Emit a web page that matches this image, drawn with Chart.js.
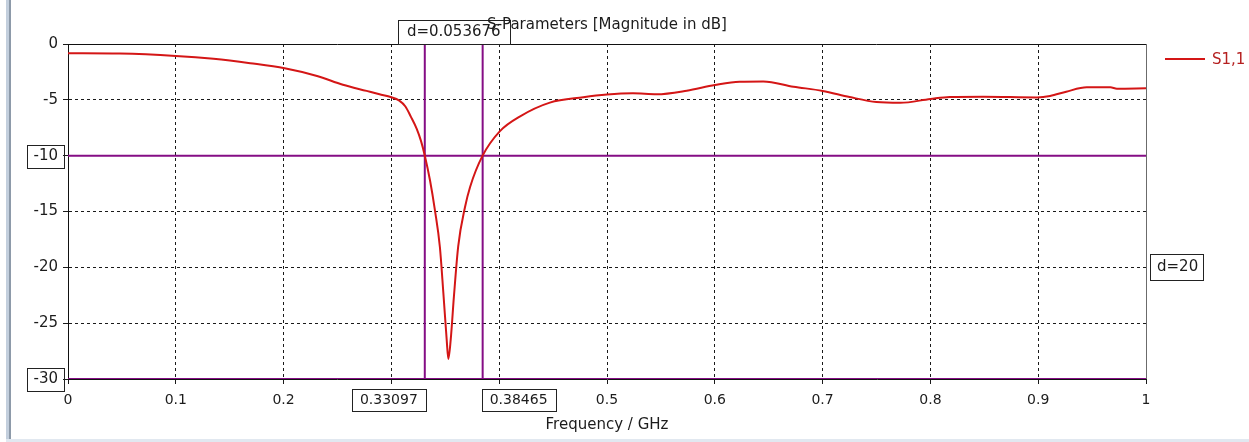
<!DOCTYPE html>
<html>
<head>
<meta charset="utf-8">
<script src="https://cdn.jsdelivr.net/npm/chart.js@4.4.1/dist/chart.umd.min.js"></script>
<style>
html, body { margin: 0; padding: 0; background: #fff; }
#wrap { position: relative; width: 1249px; height: 442px; overflow: hidden; }
canvas { position: absolute; left: 0; top: 0; }
#frameL { position: absolute; left: 6px; top: 0; width: 3px; height: 439px; background: #c3cfdd; border-right: 2px solid #8d9aa9; }
#frameB { position: absolute; left: 6px; right: 0; bottom: 0; height: 3px; background: #e1e8f0; }
</style>
</head>
<body>
<div id="wrap">
  <canvas id="c" width="1249" height="442"></canvas>
  <div id="frameL"></div>
  <div id="frameB"></div>
</div>
<script>
// S1,1 magnitude (dB) vs frequency (GHz)
const freq = [0, 0.048, 0.1, 0.135, 0.169, 0.201, 0.231, 0.255, 0.277, 0.289, 0.300, 0.307, 0.313, 0.318,
  0.3235, 0.3275, 0.331, 0.3358, 0.3404, 0.345, 0.3482, 0.3513, 0.3528, 0.355, 0.358, 0.362, 0.3683, 0.373,
  0.3846, 0.4007, 0.419, 0.447, 0.478, 0.5, 0.524, 0.546, 0.574, 0.6, 0.623, 0.645, 0.673, 0.7, 0.725, 0.75,
  0.772, 0.8, 0.818, 0.849, 0.899, 0.911, 0.926, 0.945, 0.967, 0.973, 1.0];
const s11 = [-0.83, -0.86, -1.07, -1.33, -1.72, -2.17, -2.86, -3.65, -4.2, -4.5, -4.77, -5.05, -5.6, -6.5,
  -7.6, -8.7, -10, -12.2, -14.9, -18.2, -22.3, -26.5, -28.2, -26.5, -22.6, -18.1, -14.6, -12.8,
  -10, -7.8, -6.5, -5.25, -4.77, -4.53, -4.42, -4.5, -4.18, -3.67, -3.37, -3.35, -3.82, -4.2, -4.75, -5.2,
  -5.27, -4.92, -4.74, -4.72, -4.78, -4.66, -4.27, -3.88, -3.88, -4.0, -3.97];

const xRange = [0, 1];
const yRange = [-30, 0];
const markerFreq = [0.330974, 0.38465];
const markerLevel = [-10, -30];
const hiddenXTicks = [0.3, 0.4];

const FONT = 'DejaVu Sans';
const TXT = '#1c1c1c';
const PURPLE = '#850d85';
const RED = '#d41616';

const curve = freq.map((f, i) => ({ x: f, y: s11[i] }));
const markerSets = [];
markerLevel.forEach(v => markerSets.push({
  data: [{ x: xRange[0], y: v }, { x: xRange[1], y: v }],
  borderColor: PURPLE, borderWidth: 2, pointRadius: 0
}));
markerFreq.forEach(f => markerSets.push({
  data: [{ x: f, y: yRange[0] }, { x: f, y: yRange[1] }],
  borderColor: PURPLE, borderWidth: 2, pointRadius: 0
}));

const boxes = {
  id: 'boxes',
  afterDraw(chart) {
    const ctx = chart.ctx;
    const a = chart.chartArea;
    const xs = chart.scales.x, ys = chart.scales.y;
    ctx.save();
    // frame top / right
    ctx.lineWidth = 1;
    ctx.strokeStyle = '#111';
    ctx.beginPath(); ctx.moveTo(a.left, a.top + 0.5); ctx.lineTo(a.right, a.top + 0.5); ctx.stroke();
    ctx.strokeStyle = '#6b6b6b';
    ctx.beginPath(); ctx.moveTo(a.right + 0.5, a.top); ctx.lineTo(a.right + 0.5, a.bottom); ctx.stroke();

    ctx.fillStyle = TXT;
    ctx.strokeStyle = '#222';
    ctx.textBaseline = 'middle';

    // y marker label boxes
    ctx.font = '15px ' + FONT;
    markerLevel.forEach(v => {
      const y = ys.getPixelForValue(v);
      const w = ctx.measureText(String(v)).width;
      const r = a.left - 4, l = a.left - 10 - w - 7;
      ctx.strokeRect(Math.round(l) + 0.5, Math.round(y - 11) + 0.5, Math.round(r - l), 23);
    });

    // x marker labels
    ctx.font = '14px ' + FONT;
    markerFreq.forEach((f, i) => {
      const px = xs.getPixelForValue(f);
      const t = f.toFixed(5);
      const w = ctx.measureText(t).width;
      const bw = w + 16;
      const l = i === 0 ? px + 1 - bw : px - 1;
      ctx.strokeRect(Math.round(l) + 0.5, 389.5, Math.round(bw), 22);
      ctx.textAlign = 'center';
      ctx.fillText(t, l + bw / 2, 400.5);
    });

    // distance labels
    ctx.font = '15px ' + FONT;
    const dF = 'd=' + (markerFreq[1] - markerFreq[0]).toFixed(6);
    const mid = (xs.getPixelForValue(markerFreq[0]) + xs.getPixelForValue(markerFreq[1])) / 2;
    const dw = ctx.measureText(dF).width + 18;
    ctx.strokeRect(Math.round(mid - dw / 2) + 0.5, a.top - 24 + 0.5, Math.round(dw), 24);
    ctx.fillText(dF, mid, a.top - 12);

    const dL = 'd=' + Math.abs(markerLevel[0] - markerLevel[1]);
    const midY = ys.getPixelForValue((markerLevel[0] + markerLevel[1]) / 2);
    const lw = ctx.measureText(dL).width + 12;
    ctx.strokeRect(a.right + 4.5, Math.round(midY - 13) + 0.5, Math.round(lw), 26);
    ctx.textAlign = 'left';
    ctx.fillText(dL, a.right + 11, midY);

    // title
    ctx.textAlign = 'center';
    ctx.fillText('S-Parameters [Magnitude in dB]', (a.left + a.right) / 2, 25);

    // legend
    ctx.strokeStyle = RED;
    ctx.lineWidth = 2;
    ctx.beginPath(); ctx.moveTo(a.right + 19, 59); ctx.lineTo(a.right + 59, 59); ctx.stroke();
    ctx.fillStyle = '#b52020';
    ctx.textAlign = 'left';
    ctx.fillText('S1,1', a.right + 66, 60);
    ctx.restore();
  }
};

new Chart(document.getElementById('c'), {
  type: 'line',
  data: {
    datasets: [
      { label: 'S1,1', data: curve, borderColor: RED, borderWidth: 2, pointRadius: 0, cubicInterpolationMode: 'monotone' },
      ...markerSets
    ]
  },
  options: {
    responsive: false,
    animation: false,
    layout: { padding: { top: 44, right: 103, left: 0, bottom: 0 } },
    plugins: { legend: { display: false }, tooltip: { enabled: false } },
    scales: {
      x: {
        type: 'linear', min: xRange[0], max: xRange[1],
        afterFit: s => { s.height = 63; },
        ticks: {
          stepSize: 0.1, padding: 8, color: TXT, font: { family: FONT, size: 14 },
          maxRotation: 0, autoSkip: false,
          callback: v => hiddenXTicks.some(h => Math.abs(h - v) < 1e-6) ? '' : String(+v.toFixed(1))
        },
        grid: { color: '#1a1a1a', lineWidth: 1, tickLength: 5 },
        border: { color: '#111', width: 1, dash: [3, 3] },
        title: { display: true, text: 'Frequency / GHz', color: TXT, font: { family: FONT, size: 15 }, padding: { top: 0, bottom: 8 } }
      },
      y: {
        min: yRange[0], max: yRange[1],
        afterFit: s => { s.width = 68; },
        ticks: { stepSize: 5, padding: 5, color: TXT, font: { family: FONT, size: 15 }, callback: v => String(v) },
        grid: { color: '#1a1a1a', lineWidth: 1, tickLength: 5 },
        border: { color: '#111', width: 1, dash: [3, 3] }
      }
    }
  },
  plugins: [boxes]
});
</script>
</body>
</html>
